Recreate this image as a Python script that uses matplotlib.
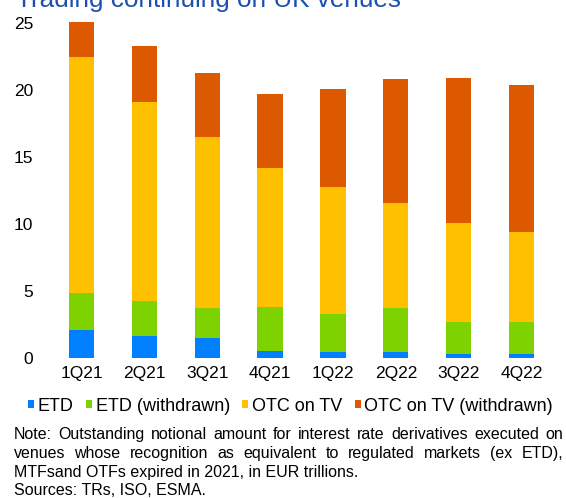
import numpy as np
import matplotlib
matplotlib.use("Agg")
import matplotlib.pyplot as plt

plt.rcParams['font.family'] = ['Liberation Sans', 'DejaVu Sans']

quarters = ['1Q21', '2Q21', '3Q21', '4Q21', '1Q22', '2Q22', '3Q22', '4Q22']
etd = [2.1, 1.65, 1.5, 0.55, 0.45, 0.45, 0.3, 0.3]
etd_wd = [2.75, 2.6, 2.2, 3.25, 2.85, 3.25, 2.4, 2.4]
otc_tv = [17.6, 14.85, 12.8, 10.4, 9.45, 7.85, 7.4, 6.7]
otc_wd = [2.65, 4.2, 4.8, 5.5, 7.3, 9.25, 10.8, 11.0]

series = [
    ('ETD', etd, '#0080ff'),
    ('ETD (withdrawn)', etd_wd, '#7ed200'),
    ('OTC on TV', otc_tv, '#ffc000'),
    ('OTC on TV (withdrawn)', otc_wd, '#dc5900'),
]

note_lines = [
    "Note: Outstanding notional amount for interest rate derivatives executed on",
    "venues whose recognition as equivalent to regulated markets (ex ETD),",
    "MTFsand OTFs expired in 2021, in EUR trillions.",
    "Sources: TRs, ISO, ESMA.",
]

W, H = 566, 498
fig = plt.figure(figsize=(W / 100, H / 100), dpi=100)
ax = fig.add_axes([50 / W, 1 - 358 / H, 503 / W, 335 / H])

x = np.arange(len(quarters))
bottom = np.zeros(len(quarters))
for name, vals, col in series:
    ax.bar(x, vals, 0.4, bottom=bottom, color=col, label=name, clip_on=False)
    bottom += np.array(vals)

ax.set_xlim(-0.5, 7.5)
ax.set_ylim(0, 25)
ax.set_yticks([0, 5, 10, 15, 20, 25])
ax.set_xticks(x)
ax.set_xticklabels(quarters)
ax.tick_params(axis='both', length=0, labelsize=12.5)
ax.tick_params(axis='y', pad=12)
ax.tick_params(axis='x', pad=6)
for s in ax.spines.values():
    s.set_visible(False)

fig.text(16 / W, 1 - 7.5 / H, "Trading continuing on UK venues", fontsize=18.8,
         color='#1c4fb0', va='baseline')

fig.legend(loc='center', bbox_to_anchor=(290.5 / W, 1 - 406 / H), ncol=4,
           frameon=False, fontsize=13, handlelength=0.32, handleheight=0.32,
           handletextpad=0.2, columnspacing=0.7, borderpad=0, borderaxespad=0)

# notes: first two lines are justified to the full width
rend = fig.canvas.get_renderer()
x0, x1 = 13.5, 563
baselines = [439, 458, 476.5, 495]
for i, line in enumerate(note_lines):
    y = 1 - baselines[i] / H
    if i < 2:
        words = line.split(' ')
        texts = [fig.text(0, y, w, fontsize=11.5, va='baseline') for w in words]
        widths = [t.get_window_extent(rend).width for t in texts]
        gap = (x1 - x0 - sum(widths)) / (len(words) - 1)
        pos = x0
        for t, w in zip(texts, widths):
            t.set_x(pos / W)
            pos += w + gap
    else:
        fig.text(x0 / W, y, line, fontsize=11.5, va='baseline')

fig.savefig('out.png', dpi=100)
